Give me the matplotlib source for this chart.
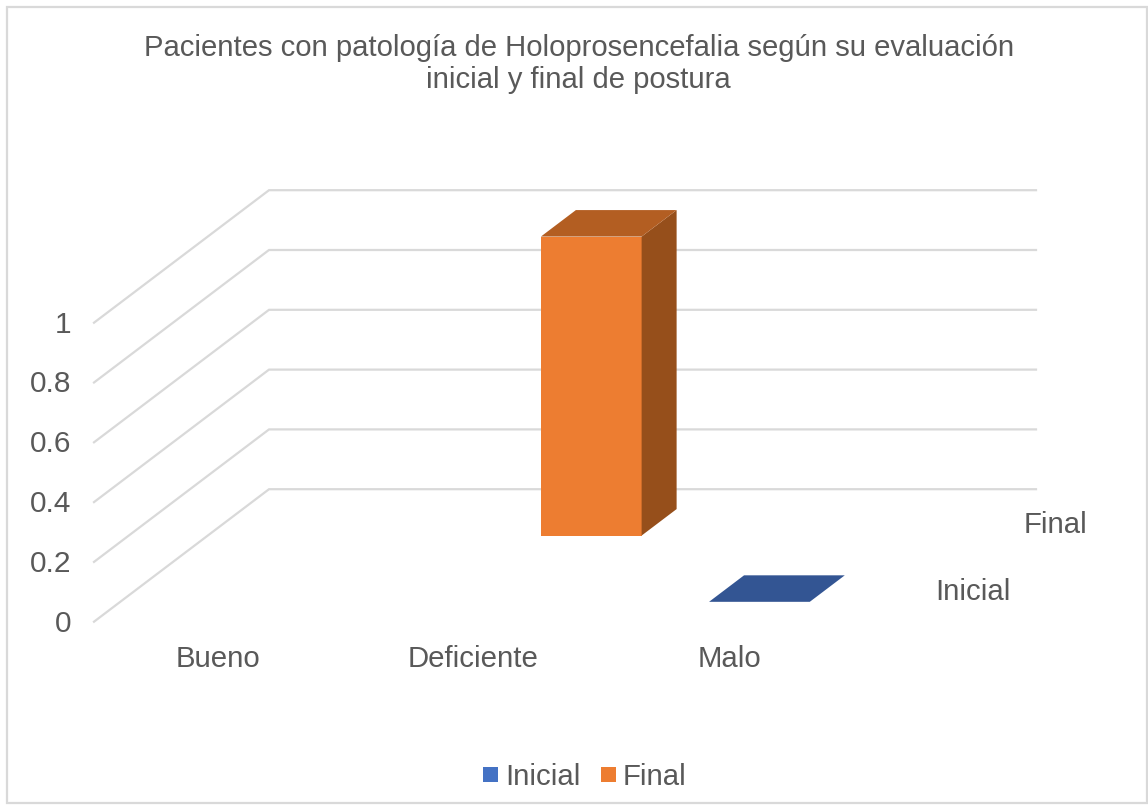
import matplotlib
matplotlib.use("Agg")
import matplotlib.pyplot as plt
from matplotlib.patches import Polygon, Rectangle

plt.rcParams['font.family'] = ['Liberation Sans', 'DejaVu Sans']

categories = ["Bueno", "Deficiente", "Malo"]
series_names = ["Inicial", "Final"]
inicial = [0, 0, 0]
final = [0, 1, 0]
# Malo / Inicial shows as a flat slab, Bueno has nothing drawn
drawn = {"Inicial": [False, False, True], "Final": [False, True, False]}
y_ticks = [0, 0.2, 0.4, 0.6, 0.8, 1]
y_tick_labels = ["0", "0.2", "0.4", "0.6", "0.8", "1"]

text_color = "#595959"
grid_color = "#d9d9d9"

# oblique projection of the excel 3d box, pixels of the picture
X0, Y0 = 94, 621.7
PLOT_W = 767
DEPTH_X, DEPTH_Y = 175, 132.5
UNIT_H = 299


def proj(cat, depth, value):
    x = X0 + cat / len(categories) * PLOT_W + depth * DEPTH_X
    y = Y0 - depth * DEPTH_Y - value * UNIT_H
    return x, y


fig = plt.figure(figsize=(11.48, 8.10), dpi=100)
ax = fig.add_axes([0, 0, 1, 1])
ax.set_xlim(0, 1148)
ax.set_ylim(810, 0)
ax.axis("off")

ax.add_patch(Rectangle((7, 7), 1140, 796, fill=False, ec=grid_color, lw=1.6))

for t, lab in zip(y_ticks, y_tick_labels):
    ax.plot(*zip(proj(0, 0, t), proj(0, 1, t), proj(3, 1, t)), color=grid_color, lw=1.6, zorder=1,
            solid_joinstyle="miter")
    x, y = proj(0, 0, t)
    ax.text(x - 23, y - 1, lab, ha="right", va="center_baseline", fontsize=21.5, color=text_color)


def bar3d(cat, row, value, front, top, side):
    c = cat + 0.5
    w = 0.197
    d0 = row * 0.5 + 0.15
    d1 = d0 + 0.2
    if value > 0:
        ax.add_patch(Polygon([proj(c - w, d0, 0), proj(c + w, d0, 0), proj(c + w, d0, value), proj(c - w, d0, value)],
                             fc=front, ec="none", zorder=3))
        ax.add_patch(Polygon([proj(c + w, d0, 0), proj(c + w, d1, 0), proj(c + w, d1, value), proj(c + w, d0, value)],
                             fc=side, ec="none", zorder=3))
    ax.add_patch(Polygon([proj(c - w, d0, value), proj(c + w, d0, value), proj(c + w, d1, value), proj(c - w, d1, value)],
                         fc=top, ec="none", zorder=3))


for row, (name, vals) in enumerate(zip(series_names, [inicial, final])):
    for i, v in enumerate(vals):
        if drawn[name][i]:
            if name == "Final":
                bar3d(i, row, v, "#ed7d31", "#b35e22", "#964f1b")
            else:
                bar3d(i, row, v, "#4472c4", "#335593", "#2a4a80")

for i, c in enumerate(categories):
    x, y = proj(i + 0.5, 0, 0)
    ax.text(x - 4, 656, c, ha="center", va="center_baseline", fontsize=21.2, color=text_color)

# series names on the depth axis
for row, name in enumerate(series_names):
    x, y = proj(3, row * 0.5 + 0.25, 0)
    ax.text(x + 31, y, name, ha="left", va="center_baseline", fontsize=21.2, color=text_color)

ax.text(579, 47.5, "Pacientes con patología de Holoprosencefalia según su evaluación",
        ha="center", va="center", fontsize=21.07, color=text_color)
ax.text(578.5, 80.5, "inicial y final de postura",
        ha="center", va="center", fontsize=21.07, color=text_color)

# legend
ax.add_patch(Rectangle((483, 767), 15, 15, fc="#4472c4", ec="none"))
ax.text(505, 774, series_names[0], ha="left", va="center_baseline", fontsize=21.2, color=text_color)
ax.add_patch(Rectangle((601, 767), 15, 15, fc="#ed7d31", ec="none"))
ax.text(623, 774, series_names[1], ha="left", va="center_baseline", fontsize=21.2, color=text_color)

fig.savefig("out.png", dpi=100)
